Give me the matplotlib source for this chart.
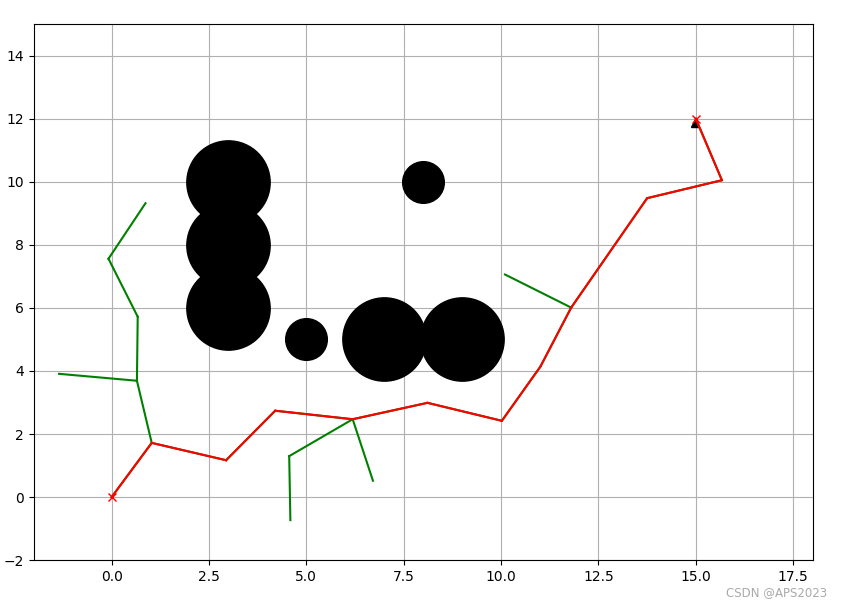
import matplotlib
matplotlib.use("Agg")
import matplotlib.pyplot as plt

# obstacles: (x, y, size)
obstacle_x = [5, 3, 3, 3, 7, 9, 8]
obstacle_y = [5, 6, 8, 10, 5, 5, 10]
obstacle_size = [1, 2, 2, 2, 2, 2, 1]

start = (0.0, 0.0)
goal = (15.0, 12.0)
rnd_node = (14.97, 11.88)

# tree edges (parent -> child)
edge_from_x = [0.00, 1.03, 2.94, 4.20, 6.19, 8.11, 10.02, 11.01, 11.80, 13.75, 15.67,
               1.03, 0.65, 0.65, 0.67, -0.08, 6.19, 4.56, 6.19, 11.80]
edge_from_y = [0.00, 1.72, 1.17, 2.74, 2.47, 2.99, 2.42, 4.14, 6.01, 9.48, 10.05,
               1.72, 3.69, 3.69, 5.72, 7.56, 2.47, 1.30, 2.47, 6.01]
edge_to_x = [1.03, 2.94, 4.20, 6.19, 8.11, 10.02, 11.01, 11.80, 13.75, 15.67, 15.00,
             0.65, -1.35, 0.67, -0.08, 0.87, 4.56, 4.59, 6.71, 10.10]
edge_to_y = [1.72, 1.17, 2.74, 2.47, 2.99, 2.42, 4.14, 6.01, 9.48, 10.05, 12.00,
             3.69, 3.91, 5.72, 7.56, 9.32, 1.30, -0.73, 0.52, 7.06]

# final path
path_x = [15.00, 15.67, 13.75, 11.80, 11.01, 10.02, 8.11, 6.19, 4.20, 2.94, 1.03, 0.00]
path_y = [12.00, 10.05, 9.48, 6.01, 4.14, 2.42, 2.99, 2.47, 2.74, 1.17, 1.72, 0.00]

fig = plt.figure(figsize=(8.43, 6.03), dpi=100)
ax = fig.add_axes([0.040, 0.071, 0.924, 0.889])

ax.plot(rnd_node[0], rnd_node[1], "^k")
for x0, y0, x1, y1 in zip(edge_from_x, edge_from_y, edge_to_x, edge_to_y):
    ax.plot([x0, x1], [y0, y1], "-g")

for ox, oy, s in zip(obstacle_x, obstacle_y, obstacle_size):
    ax.plot(ox, oy, "ok", ms=30 * s)

ax.plot(start[0], start[1], "xr")
ax.plot(goal[0], goal[1], "xr")
ax.plot(path_x, path_y, "-r")

ax.set_xlim(-2, 18)
ax.set_ylim(-2, 15)
ax.grid(True)

fig.text(0.981, 0.007, "CSDN @APS2023", ha="right", va="bottom",
         color="#aaaaaa", fontsize=8.5)

fig.savefig("out.png", dpi=100)
